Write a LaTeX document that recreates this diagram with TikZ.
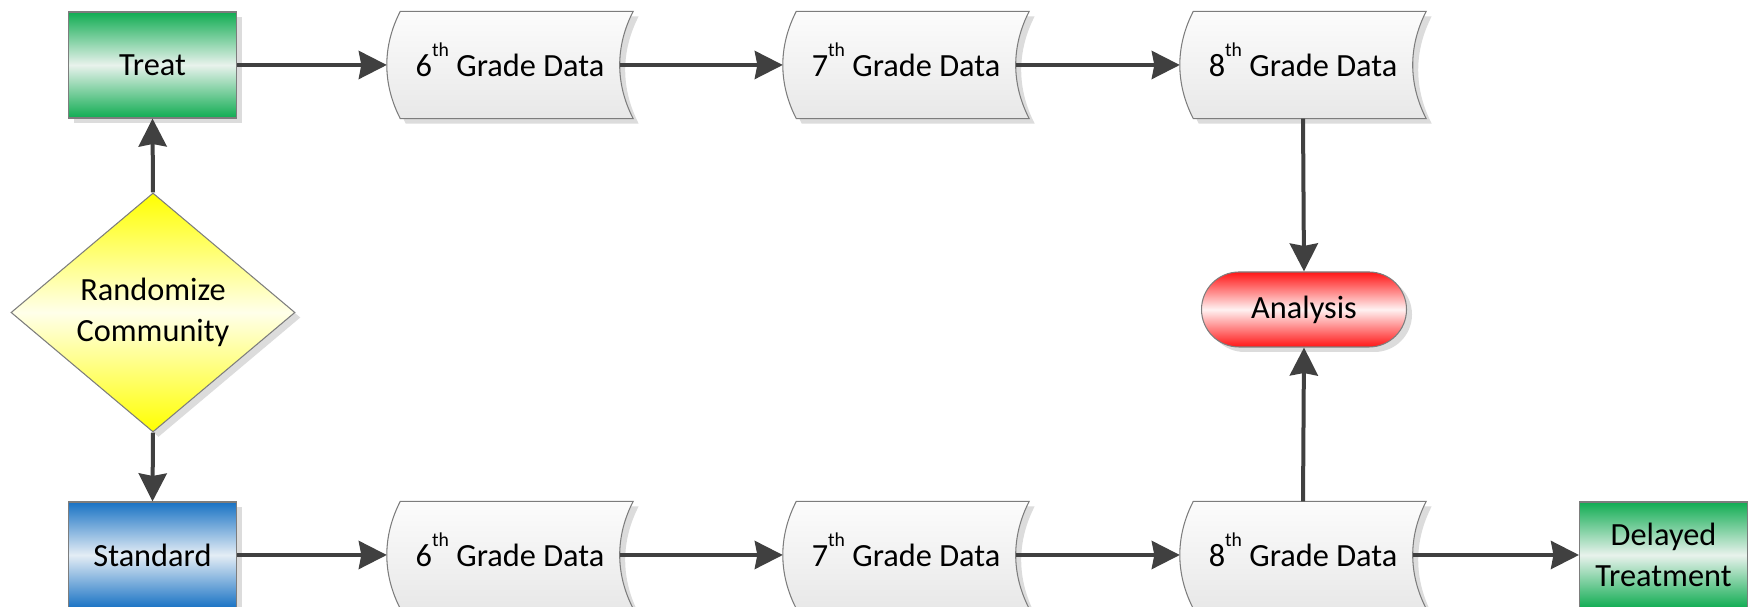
\documentclass[tikz,border=0pt]{standalone}
\usepackage{fontspec}
\setmainfont{Carlito}
\usetikzlibrary{arrows.meta,shapes.geometric,shadows,backgrounds}

\definecolor{linegray}{RGB}{64,64,64}
\definecolor{edgegray}{RGB}{125,125,125}
\definecolor{trgreen}{RGB}{16,172,82}
\definecolor{trpale}{RGB}{232,242,236}
\definecolor{stblue}{RGB}{24,114,196}
\definecolor{stpale}{RGB}{228,237,245}
\definecolor{anred}{RGB}{255,22,22}
\definecolor{anpale}{RGB}{255,242,242}
\definecolor{rdyellow}{RGB}{255,255,0}
\definecolor{rdpale}{RGB}{255,255,234}
\definecolor{datatop}{RGB}{252,252,252}
\definecolor{databot}{RGB}{232,232,232}
\definecolor{shadowgray}{RGB}{220,220,220}

% small raised ordinal suffix (kept out of the line height)
\newcommand\ordsup[1]{\smash{\raisebox{0.6em}{\fontsize{5.6}{6}\selectfont #1}}}

\tikzset{
  every node/.style={font=\fontsize{9.2}{11.6}\selectfont, align=center, text=black},
  softshadow/.style={drop shadow={shadow xshift=0.55mm, shadow yshift=-0.5mm,
      fill=shadowgray, opacity=1}},
  outline/.style={draw=edgegray, line width=0.3pt},
  procbox/.style={rectangle, outline, minimum width=16.8mm, minimum height=10.6mm,
      inner sep=0pt, softshadow},
  greenbox/.style={procbox, top color=trgreen, bottom color=trgreen, middle color=trpale},
  bluebox/.style={procbox, top color=stblue, bottom color=stblue, middle color=stpale},
  decision/.style={diamond, outline, minimum width=28.4mm, minimum height=23.9mm,
      inner sep=0pt, softshadow,
      top color=rdyellow, bottom color=rdyellow, middle color=rdpale},
  terminal/.style={rectangle, rounded corners=3.75mm, outline, minimum width=20.5mm,
      minimum height=7.5mm, inner sep=0pt, softshadow,
      top color=anred, bottom color=anred, middle color=anpale},
  datanode/.style={rectangle, minimum width=24.5mm, minimum height=10.6mm, inner sep=0pt},
  datashape/.style={outline, top color=datatop, bottom color=databot, softshadow},
  conn/.style={draw=linegray, line width=0.4mm,
      -{Stealth[length=2.8mm, width=2.8mm, inset=0.25mm]}},
}

\begin{document}
\begin{tikzpicture}[x=0.1mm, y=-0.1mm]
  \useasboundingbox (0,0) rectangle (1748,607);

  % decision and the two arms
  \node[decision] (rand) at (153,312.5) {Randomize\\Community};
  \node[greenbox] (treat) at (152.5,65) {Treat};
  \node[bluebox] (std) at (152.5,555) {Standard};

  % stored-data nodes (outlines drawn below on the background layer)
  \node[datanode] (d6t) at (510,65) {6\ordsup{th} Grade Data};
  \node[datanode] (d7t) at (906,65) {7\ordsup{th} Grade Data};
  \node[datanode] (d8t) at (1303,65) {8\ordsup{th} Grade Data};
  \node[datanode] (d6b) at (510,555) {6\ordsup{th} Grade Data};
  \node[datanode] (d7b) at (906,555) {7\ordsup{th} Grade Data};
  \node[datanode] (d8b) at (1303,555) {8\ordsup{th} Grade Data};

  \node[terminal] (ana) at (1304,309.5) {Analysis};
  \node[greenbox] (dt) at (1663.5,555) {Delayed\\Treatment};

  \begin{pgfonlayer}{background}
    \foreach \n in {d6t,d7t,d8t,d6b,d7b,d8b} {
      \path[datashape]
        ([xshift=1.35mm]\n.north west) -- (\n.north east)
        .. controls ([xshift=-1.8mm,yshift=-3.5mm]\n.north east)
                and ([xshift=-1.8mm,yshift=3.5mm]\n.south east) .. (\n.south east)
        -- ([xshift=1.35mm]\n.south west)
        .. controls ([xshift=-0.45mm,yshift=3.5mm]\n.south west)
                and ([xshift=-0.45mm,yshift=-3.5mm]\n.north west) .. cycle;
    }
  \end{pgfonlayer}

  % connectors
  \draw[conn] (rand.north) -- (treat.south);
  \draw[conn] (rand.south) -- (std.north);

  \draw[conn] (treat.east) -- (d6t.west);
  \draw[conn] ([xshift=-1.35mm]d6t.east) -- (d7t.west);
  \draw[conn] ([xshift=-1.35mm]d7t.east) -- (d8t.west);

  \draw[conn] (std.east) -- (d6b.west);
  \draw[conn] ([xshift=-1.35mm]d6b.east) -- (d7b.west);
  \draw[conn] ([xshift=-1.35mm]d7b.east) -- (d8b.west);
  \draw[conn] ([xshift=-1.35mm]d8b.east) -- (dt.west);

  \draw[conn] (d8t.south) -- (ana.north);
  \draw[conn] (d8b.north) -- (ana.south);
\end{tikzpicture}
\end{document}
